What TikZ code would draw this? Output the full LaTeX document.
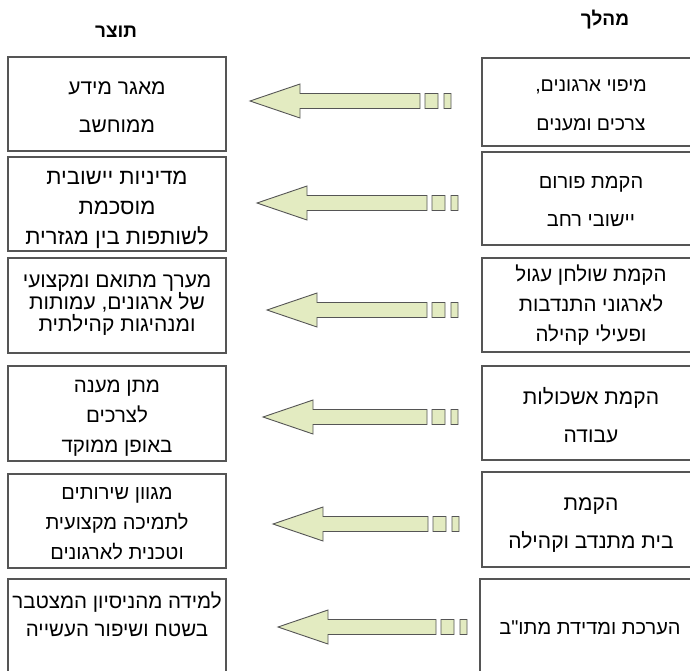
\documentclass[tikz,border=0pt]{standalone}
\usepackage{fontspec}
\newfontfamily\hebfont[Script=Hebrew,Ligatures=TeXOff]{Liberation Sans}
\TeXXeTstate=1
\usetikzlibrary{positioning}

\definecolor{arrowgreen}{RGB}{227,235,193}
\definecolor{edgegray}{RGB}{85,85,85}

\newcommand{\heb}[1]{\beginR #1\endR}
\newcommand{\topgap}[1]{\rule{0pt}{#1pt}}

\tikzset{
  stagebox/.style={draw=edgegray, line width=1.1pt, minimum width=218pt,
    inner sep=0pt, align=center, font=\hebfont\fontsize{21}{38}\selectfont},
  roomy/.style={font=\hebfont\fontsize{20.5}{30}\selectfont},
  packed/.style={font=\hebfont\fontsize{21}{22}\selectfont},
  smaller/.style={font=\hebfont\fontsize{19.5}{39}\selectfont},
  headline/.style={font=\hebfont\bfseries\fontsize{19}{20}\selectfont},
  bigarrow/.style={draw=edgegray, fill=arrowgreen, line width=0.9pt}
}

\begin{document}
\begin{tikzpicture}[x=1pt, y=-1pt]
  \useasboundingbox (0,0) rectangle (690,670);
  \clip (0,0) rectangle (690,670);

  % column titles
  \node[headline] (prodtitle) at (116,32) {\heb{תוצר}};
  \node[headline] (proctitle) at (605,20) {\heb{מהלך}};

  % products
  \node[stagebox, minimum height=94pt] (prod1) at (117,104)
    {\heb{\topgap{20}מאגר מידע}\\\heb{ממוחשב}};
  \node[stagebox, font=\hebfont\fontsize{22}{30}\selectfont, minimum height=94pt,
    below=4.9pt of prod1] (prod2)
    {\heb{\topgap{25}מדיניות יישובית}\\\heb{מוסכמת}\\\heb{לשותפות בין מגזרית}};
  \node[stagebox, packed, minimum height=95pt, below=5.9pt of prod2] (prod3)
    {\heb{מערך מתואם ומקצועי}\\\heb{של ארגונים, עמותות}\\\heb{ומנהיגות קהילתית}};
  \node[stagebox, roomy, minimum height=95pt, below=11.9pt of prod3] (prod4)
    {\heb{\topgap{22}מתן מענה}\\\heb{לצרכים}\\\heb{באופן ממוקד}};
  \node[stagebox, font=\hebfont\fontsize{20}{30}\selectfont, minimum height=94pt,
    below=11.9pt of prod4] (prod5)
    {\heb{\topgap{18}מגוון שירותים}\\\heb{לתמיכה מקצועית}\\\heb{וטכנית לארגונים}};
  \node[stagebox, font=\hebfont\fontsize{20.5}{28}\selectfont, minimum height=98pt,
    below=9.9pt of prod5] (prod6)
    {\heb{למידה מהניסיון המצטבר}\\\heb{בשטח ושיפור העשייה}\\\phantom{מ}};

  % process steps
  \node[stagebox, smaller, minimum height=88pt] (proc1) at (591,102)
    {\heb{\topgap{19}מיפוי ארגונים,}\\\heb{צרכים ומענים}};
  \node[stagebox, font=\hebfont\fontsize{20}{38}\selectfont, minimum height=93pt,
    below=4.9pt of proc1] (proc2)
    {\heb{\topgap{18}הקמת פורום}\\\heb{יישובי רחב}};
  \node[stagebox, roomy, minimum height=94pt, below=11.9pt of proc2] (proc3)
    {\heb{הקמת שולחן עגול}\\\heb{לארגוני התנדבות}\\\heb{ופעילי קהילה}};
  \node[stagebox, minimum height=94pt, below=12.9pt of proc3] (proc4)
    {\heb{\topgap{21}הקמת אשכולות}\\\heb{עבודה}};
  \node[stagebox, minimum height=95pt, below=10.9pt of proc4] (proc5)
    {\heb{\topgap{24}הקמת}\\\heb{בית מתנדב וקהילה}};
  \node[stagebox, font=\hebfont\fontsize{20}{38}\selectfont, minimum width=220pt,
    minimum height=98pt, below=10.9pt of proc5, xshift=-1pt] (proc6)
    {\heb{הערכת ומדידת מתו"ב}};

  % block arrows from process to product
  \foreach \tip/\yy/\tail in {250/101/420, 257/203/427, 267/310/427,
                              263/417/427, 273/524/428, 278/627/436}
    \draw[bigarrow] (\tip,\yy) -- (\tip+50,\yy-17) -- (\tip+50,\yy-7.5)
      -- (\tail,\yy-7.5) -- (\tail,\yy+7.5) -- (\tip+50,\yy+7.5)
      -- (\tip+50,\yy+17) -- cycle
      (\tail+5,\yy-7.5) rectangle (\tail+18,\yy+7.5)
      (\tail+24,\yy-7.5) rectangle (\tail+31,\yy+7.5);
\end{tikzpicture}
\end{document}
